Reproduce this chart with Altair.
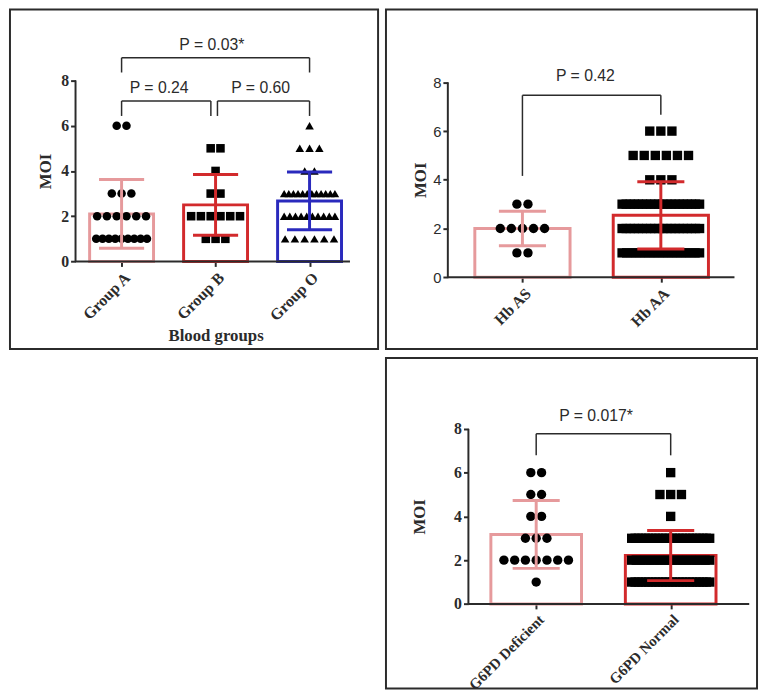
import altair as alt
import pandas as pd

# ---------------- data ----------------
moi_levels = [1, 2, 3, 4, 5, 6]

blood_groups = ["Group A", "Group B", "Group O"]
group_a_counts = [9, 6, 3, 0, 0, 2]
group_b_counts = [3, 6, 2, 1, 2, 0]
group_o_counts = [6, 10, 12, 2, 3, 1]
blood_pvalues = ["P = 0.24", "P = 0.60", "P = 0.03*"]

hb_types = ["Hb AS", "Hb AA"]
hb_as_counts = [2, 5, 2, 0, 0, 0]
hb_aa_counts = [18, 20, 20, 3, 6, 3]
hb_pvalues = ["P = 0.42"]

g6pd_types = ["G6PD Deficient", "G6PD Normal"]
g6pd_def_counts = [1, 7, 3, 2, 2, 2]
g6pd_norm_counts = [24, 18, 24, 1, 3, 1]
g6pd_pvalues = ["P = 0.017*"]

# ---------------- styling ----------------
PINK, RED, BLUE = "#E69A9C", "#D22A2C", "#2A2ABD"
INK = "#2B2B2B"
SERIF, SANS = "Liberation Serif", "Liberation Sans"


def points_table(names, counts_list, step_max, span_max):
    rows = []
    for i, (name, counts) in enumerate(zip(names, counts_list)):
        for level, n in zip(moi_levels, counts):
            if n == 0:
                continue
            step = step_max if n == 1 else min(step_max, span_max / (n - 1))
            for k in range(n):
                rows.append({"group": name, "pos": i, "moi": level,
                             "xp": i + (k - (n - 1) / 2) * step})
    return pd.DataFrame(rows)


def make_panel(names, counts, colors, shapes, sym_sizes, W, H, xdom, ydom,
               yline_x, xline_end, bar_hw, cap_hw, step_max, span_max,
               brackets, pvalues, ylab_font, ylab_weight, ylab_size,
               ytitle_dx, xlab_size, xtitle=None, xtitle_dy=None):
    pts = points_table(names, counts, step_max, span_max)
    sx = W / (xdom[1] - xdom[0])
    sy = H / (ydom[1] - ydom[0])
    xs = alt.Scale(domain=xdom, nice=False, zero=False)
    ys = alt.Scale(domain=ydom, nice=False, zero=False)
    cs = alt.Scale(domain=names, range=colors)
    yline_px = (yline_x - xdom[0]) * sx
    y0_px = ydom[1] * sy

    label_expr = "[" + ",".join("'%s'" % n for n in names) + "][datum.value]"
    xkw = dict(values=list(range(len(names))), labelExpr=label_expr,
               offset=-(H - y0_px), domain=False, grid=False, tickSize=5,
               tickWidth=2, tickColor=INK, labelAngle=315, labelFont=SERIF,
               labelFontWeight="bold", labelFontSize=xlab_size, labelColor=INK,
               labelPadding=3, labelFlush=False, labelOverlap=False)
    if xtitle:
        xkw.update(title=xtitle, titleFont=SERIF, titleFontWeight="bold",
                   titleFontSize=17, titleColor=INK,
                   titleX=(1 - xdom[0]) * sx, titleY=xtitle_dy,
                   titleAlign="center", titleBaseline="middle")
    else:
        xkw.update(title=None)
    x_axis = alt.Axis(**xkw)
    y_axis = alt.Axis(values=[0, 2, 4, 6, 8], format="d", offset=-yline_px,
                      domain=False, grid=False, tickSize=5, tickWidth=2,
                      tickColor=INK, labelFont=ylab_font,
                      labelFontWeight=ylab_weight, labelFontSize=ylab_size,
                      labelColor=INK, labelPadding=2, labelFlush=False,
                      title="MOI", titleFont=SERIF, titleFontWeight="bold",
                      titleFontSize=17, titleColor=INK, titleX=ytitle_dx,
                      titleY=(ydom[1] - 4) * sy, titleAngle=270,
                      titleAlign="center", titleBaseline="middle")

    # secondary layers: same scales, no axis setting (merged into the first)
    def X(f):
        return alt.X(f, scale=xs)

    def Y(f):
        return alt.Y(f, scale=ys)

    stroke = alt.Stroke("group:N", scale=cs, legend=None)

    agg = alt.Chart(pts).transform_aggregate(
        mean="mean(moi)", sd="stdev(moi)", groupby=["group", "pos"]
    ).transform_calculate(
        lo="datum.mean - datum.sd", hi="datum.mean + datum.sd",
        bx1="datum.pos - %f" % bar_hw, bx2="datum.pos + %f" % bar_hw,
        cx1="datum.pos - %f" % cap_hw, cx2="datum.pos + %f" % cap_hw,
    )
    bars = agg.mark_rect(fill="white", strokeWidth=3).encode(
        x=alt.X("bx1:Q", scale=xs, axis=x_axis), x2="bx2:Q",
        y=alt.Y("mean:Q", scale=ys, axis=y_axis), y2=alt.datum(0),
        stroke=stroke)
    dots = alt.Chart(pts).mark_point(filled=True, color="black",
                                     opacity=1).encode(
        x=X("xp:Q"), y=Y("moi:Q"),
        shape=alt.Shape("group:N", scale=alt.Scale(domain=names, range=shapes),
                        legend=None),
        size=alt.Size("group:O", scale=alt.Scale(domain=names, range=sym_sizes),
                      legend=None))
    ebar = agg.mark_rule(strokeWidth=3).encode(
        x=X("pos:Q"), y=Y("lo:Q"), y2="hi:Q", stroke=stroke)
    cap_lo = agg.mark_rule(strokeWidth=3).encode(
        x=X("cx1:Q"), x2="cx2:Q", y=Y("lo:Q"), stroke=stroke)
    cap_hi = agg.mark_rule(strokeWidth=3).encode(
        x=X("cx1:Q"), x2="cx2:Q", y=Y("hi:Q"), stroke=stroke)

    axis_df = pd.DataFrame([{"x0": yline_x, "x1": xline_end, "y0": 0, "y1": 8}])
    ax_y = alt.Chart(axis_df).mark_rule(color=INK, strokeWidth=2).encode(
        x=X("x0:Q"), y=Y("y0:Q"), y2="y1:Q")
    ax_x = alt.Chart(axis_df).mark_rule(color=INK, strokeWidth=2).encode(
        x=X("x0:Q"), x2="x1:Q", y=Y("y0:Q"))

    bdf = pd.DataFrame([dict(b, label=p) for b, p in zip(brackets, pvalues)])
    br = alt.Chart(bdf)
    b_h = br.mark_rule(color=INK, strokeWidth=1.5).encode(
        x=X("x1:Q"), x2="x2:Q", y=Y("yt:Q"))
    b_l = br.mark_rule(color=INK, strokeWidth=1.5).encode(
        x=X("x1:Q"), y=Y("yl1:Q"), y2="yt:Q")
    b_r = br.mark_rule(color=INK, strokeWidth=1.5).encode(
        x=X("x2:Q"), y=Y("yl2:Q"), y2="yt:Q")
    b_t = br.mark_text(font=SANS, fontSize=16, color=INK, baseline="middle",
                       align="center").encode(
        x=X("tx:Q"), y=Y("ty:Q"), text="label:N")

    return alt.layer(bars, dots, ebar, cap_lo, cap_hi, ax_y, ax_x,
                     b_h, b_l, b_r, b_t).properties(width=W, height=H)


# bracket geometry (layout, in data units)
blood_brackets = [
    dict(x1=0, x2=0.95, yt=7.09, yl1=6.43, yl2=6.43, tx=0.40, ty=7.67),
    dict(x1=1.02, x2=2, yt=7.09, yl1=6.43, yl2=6.43, tx=1.48, ty=7.67),
    dict(x1=0, x2=2, yt=9.0, yl1=8.35, yl2=8.35, tx=0.96, ty=9.54),
]
hb_brackets = [dict(x1=0, x2=1, yt=7.47, yl1=4.16, yl2=6.67, tx=0.455, ty=8.24)]
g6pd_brackets = [dict(x1=0, x2=1, yt=7.78, yl1=6.79, yl2=6.79, tx=0.445, ty=8.57)]

p1 = make_panel(blood_groups, [group_a_counts, group_b_counts, group_o_counts],
                [PINK, RED, BLUE], ["circle", "square", "triangle-up"],
                [75, 75, 115],
                373, 344, [-1.1875, 2.729], [-3.87, 11.13], -0.49, 2.43,
                0.34, 0.24, 0.104, 0.54, blood_brackets, blood_pvalues,
                SERIF, "bold", 16, -30.5, 16, "Blood groups", 75)
p2 = make_panel(hb_types, [hb_as_counts, hb_aa_counts], [PINK, RED],
                ["circle", "square"], [90, 90],
                376, 344, [-0.986, 1.695], [-2.95, 10.99], -0.539, 1.532,
                0.344, 0.17, 0.08, 0.56, hb_brackets, hb_pvalues,
                SANS, "normal", 15, -27.5, 16)
p3 = make_panel(g6pd_types, [g6pd_def_counts, g6pd_norm_counts], [PINK, RED],
                ["circle", "square"], [90, 90],
                376, 335, [-1.117, 1.642], [-3.865, 11.24], -0.504, 1.584,
                0.337, 0.175, 0.08, 0.58, g6pd_brackets, g6pd_pvalues,
                SERIF, "bold", 16, -49.5, 15)

res = dict(x="independent", y="independent", stroke="independent",
           shape="independent", size="independent")
right = alt.vconcat(p2, p3, spacing=7).resolve_scale(**res)
chart = alt.hconcat(p1, right, spacing=6).resolve_scale(**res).properties(
    padding={"top": -4, "left": 1, "right": 1, "bottom": 1}
).configure_view(stroke=INK, strokeWidth=2)

chart.save("out.html", embed_options={"renderer": "svg", "actions": False})
